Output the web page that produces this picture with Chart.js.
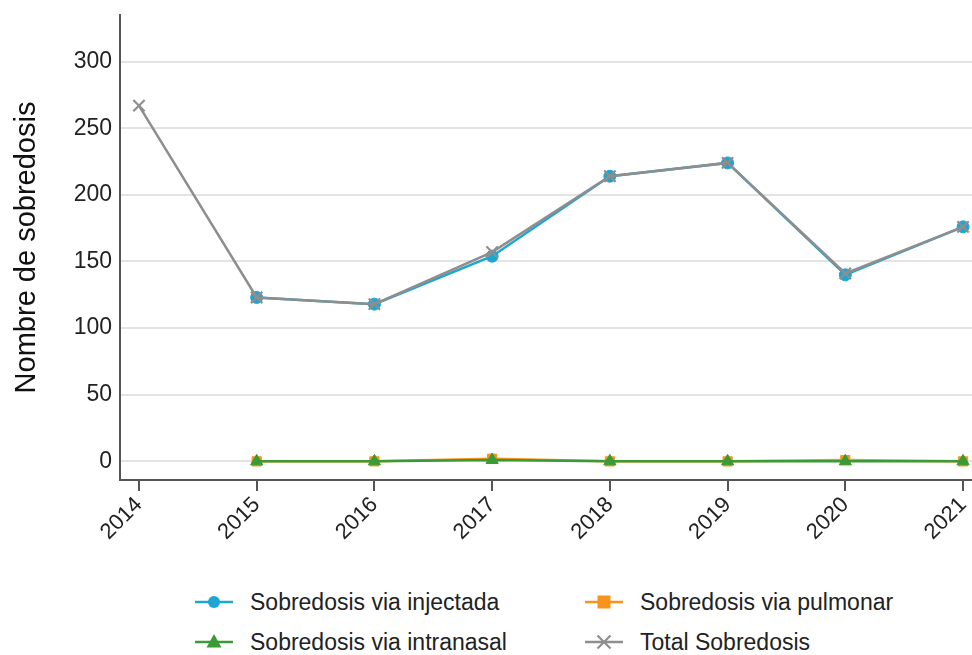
<!DOCTYPE html>
<html>
<head>
<meta charset="utf-8">
<script src="https://cdn.jsdelivr.net/npm/chart.js@4"></script>
<style>
  body { margin: 0; background: #fff; font-family: "Liberation Sans", Arial, sans-serif; }
  #wrap { position: relative; width: 972px; height: 655px; }
  #legend { position: absolute; left: 0; top: 585px; width: 972px; }
  .item { position: absolute; display: flex; align-items: center; font-size: 23px; color: #222; height: 34px; }
  .item svg { margin-right: 17px; }
</style>
</head>
<body>
<div id="wrap">
  <canvas id="myChart" width="972" height="575"></canvas>
  <div id="legend"></div>
</div>
<script>
const years = [2014, 2015, 2016, 2017, 2018, 2019, 2020, 2021];
const yTicks = [0, 50, 100, 150, 200, 250, 300];

const injectada = [123, 118, 154, 214, 224, 140, 176];       // 2015-2021
const pulmonar = [0, 0, 2, 0, 0, 1, 0];                       // 2015-2021
const intranasal = [0, 0, 1, 0, 0, 0, 0];                     // 2015-2021
const total = [267, 123, 118, 157, 214, 224, 141, 176];       // 2014-2021

const labels = ['Sobredosis via injectada', 'Sobredosis via pulmonar', 'Sobredosis via intranasal', 'Total Sobredosis'];
const colors = ['#1ca6d2', '#f7941e', '#3a9a35', '#8e8e8e'];
const styles = ['circle', 'rect', 'triangle', 'crossRot'];

const later = years.slice(1);
const pts = (xs, ys) => xs.map((x, i) => ({ x: x, y: ys[i] }));

function ds(i, data, radius, order) {
  return {
    label: labels[i],
    data: data,
    borderColor: colors[i],
    backgroundColor: colors[i],
    pointStyle: styles[i],
    pointRadius: radius,
    pointBorderWidth: styles[i] === 'crossRot' ? 2.2 : 1,
    borderWidth: 2.5,
    clip: false,
    order: order
  };
}

// keep the plot box where the reference has it
function noPad(s) {
  s.paddingLeft = 0; s.paddingRight = 0; s.paddingTop = 0; s.paddingBottom = 0;
}

const ctx = document.getElementById('myChart');
new Chart(ctx, {
  type: 'line',
  data: {
    datasets: [
      ds(0, pts(later, injectada), 6, 1),
      ds(1, pts(later, pulmonar), 6.5, 3),
      ds(2, pts(later, intranasal), 7, 2),
      ds(3, pts(years, total), 8, 0)
    ]
  },
  options: {
    responsive: false,
    devicePixelRatio: 1,
    animation: false,
    layout: { autoPadding: false, padding: { top: 15, right: 0, left: 0, bottom: 0 } },
    plugins: { legend: { display: false }, tooltip: { enabled: false } },
    scales: {
      x: {
        type: 'linear',
        min: 2013.839,
        max: 2021.076,
        afterBuildTicks: s => { s.ticks = years.map(v => ({ value: v })); },
        afterFit: s => { s.height = 95; noPad(s); },
        grid: { drawOnChartArea: false, drawTicks: true, tickLength: 11, color: '#555', lineWidth: 2 },
        border: { display: true, color: '#555', width: 2 },
        ticks: {
          callback: v => String(v),
          minRotation: 45, maxRotation: 45,
          padding: 1,
          color: '#222',
          font: { family: 'Liberation Sans', size: 22 }
        }
      },
      y: {
        min: -14,
        max: 335,
        afterBuildTicks: s => { s.ticks = yTicks.map(v => ({ value: v })); },
        afterFit: s => { s.width = 120; noPad(s); },
        grid: { color: '#e3e3e3', lineWidth: 2, drawTicks: false },
        border: { display: true, color: '#555', width: 2 },
        ticks: {
          padding: 8,
          color: '#222',
          font: { family: 'Liberation Sans', size: 23 }
        },
        title: {
          display: true,
          text: 'Nombre de sobredosis',
          color: '#111',
          padding: { top: 10, bottom: 0 },
          font: { family: 'Liberation Sans', size: 29 }
        }
      }
    }
  }
});

// legend, two columns
const legend = document.getElementById('legend');
const slots = [[195, 0], [585, 0], [195, 40], [585, 40]];
function marker(i) {
  const c = colors[i];
  if (styles[i] === 'circle') return `<circle cx="19" cy="17" r="6" fill="${c}"/>`;
  if (styles[i] === 'rect') return `<rect x="12.5" y="10.5" width="13" height="13" fill="${c}"/>`;
  if (styles[i] === 'triangle') return `<polygon points="19,9 26.5,22.5 11.5,22.5" fill="${c}"/>`;
  return `<path d="M12.5 10.5 L25.5 23.5 M25.5 10.5 L12.5 23.5" stroke="${c}" stroke-width="2.2"/>`;
}
labels.forEach((name, i) => {
  const el = document.createElement('div');
  el.className = 'item';
  el.style.left = slots[i][0] + 'px';
  el.style.top = slots[i][1] + 'px';
  el.innerHTML = `<svg width="38" height="34"><line x1="0" y1="17" x2="38" y2="17" stroke="${colors[i]}" stroke-width="2.5"/>${marker(i)}</svg><span>${name}</span>`;
  legend.appendChild(el);
});
</script>
</body>
</html>
